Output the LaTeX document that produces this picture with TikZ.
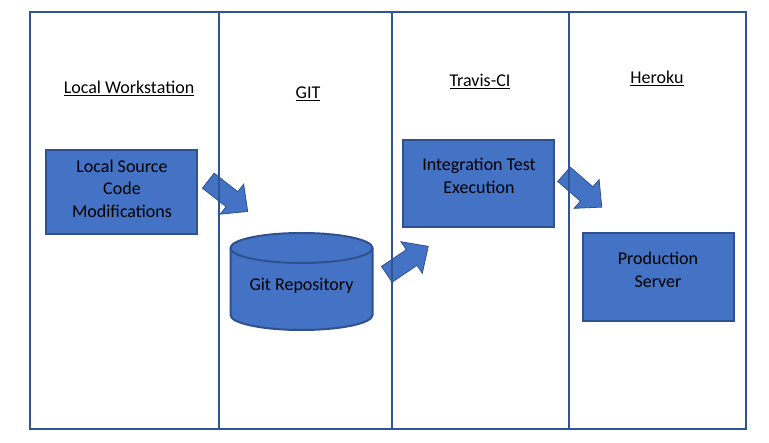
\documentclass[tikz,border=0pt]{standalone}
\usepackage{fontspec}
\setmainfont{Carlito}
\definecolor{fillblue}{HTML}{4472C4}
\definecolor{edgeblue}{HTML}{2F528F}
\definecolor{frameblue}{HTML}{2F5597}
\tikzset{
  frame/.style={draw=frameblue, line width=2pt},
  box/.style={draw=edgeblue, fill=fillblue, line width=2pt, rectangle, inner sep=0pt},
  boxtext/.style={align=center, inner sep=0pt, anchor=base, text=black},
  header/.style={inner sep=0pt, anchor=base, text=black},
  barrow/.pic={\filldraw[fill=fillblue, draw=edgeblue, line width=0.8pt]
     (0,-9.5) -- (30,-9.5) -- (30,-19) -- (50,0) -- (30,19) -- (30,9.5) -- (0,9.5) -- cycle;}
}
\begin{document}
\begin{tikzpicture}[x=1pt, y=-1pt, font=\fontsize{18}{22.5}\selectfont]
\useasboundingbox (0,0) rectangle (769,443);
\fill[white] (0,0) rectangle (769,443);
% headers
\node[header] (hlocal) at (129,93.3) {\underline{Local Workstation}};
\node[header] (hgit) at (308,98.3) {\underline{GIT}};
\node[header] (htravis) at (480,86.7) {\underline{Travis-CI}};
\node[header] (hheroku) at (657,83.3) {\underline{Heroku}};
% boxes
\node[box, minimum width=151.5pt, minimum height=84pt] (local) at (121.7,192.5) {};
\node[box, minimum width=151pt, minimum height=87.5pt] (travis) at (478.7,183.6) {};
\node[box, minimum width=151pt, minimum height=88pt] (prod) at (658,277.3) {};
% cylinder
\filldraw[draw=edgeblue, fill=fillblue, line width=2pt]
  (230.5,248) -- (230.5,315) arc[start angle=180, end angle=0, x radius=71, y radius=15]
  -- (372.5,248) arc[start angle=0, end angle=-180, x radius=71, y radius=15] -- cycle;
\draw[draw=edgeblue, line width=2pt]
  (230.5,248) arc[start angle=180, end angle=0, x radius=71, y radius=15];
% texts
\node[boxtext] (tlocal) at (122,217.3) {Local Source\\Code\\Modifications};
\node[boxtext] (ttravis) at (479,193.3) {Integration Test\\Execution};
\node[boxtext] (tprod) at (658,287.3) {Production\\Server};
\node[boxtext] (tgit) at (301.5,290.5) {Git Repository};
% block arrows
\pic[rotate=-38] at (208.3,180.7) {barrow};
\pic[rotate=34] at (386.8,274.3) {barrow};
\pic[rotate=-41] at (564,174.3) {barrow};
% swimlanes
\draw[frame] (30,12) rectangle (746,429);
\draw[frame] (219,12) -- (219,429);
\draw[frame] (392,12) -- (392,429);
\draw[frame] (569,12) -- (569,429);
\end{tikzpicture}
\end{document}
